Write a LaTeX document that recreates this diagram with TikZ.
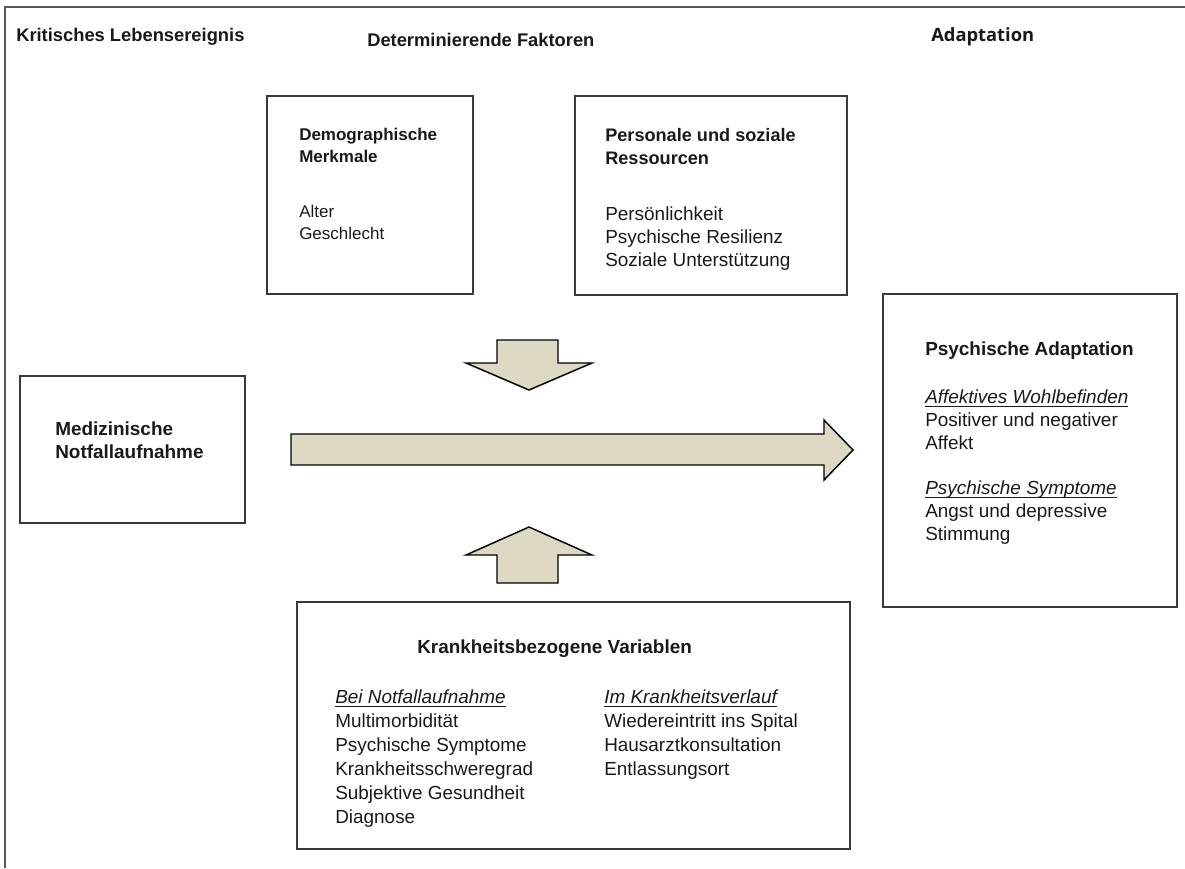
\documentclass[tikz,border=0pt]{standalone}
\usepackage{fontspec}
\setmainfont{Liberation Sans}
\newfontfamily\titlefont{Open Sans}
\usetikzlibrary{positioning,fit}
\definecolor{boxline}{HTML}{3A3A3A}
\definecolor{arrowfill}{HTML}{DDD9C3}
\newcommand{\ulit}[1]{\setbox0\hbox{\itshape #1}\rlap{\rule[-2pt]{\wd0}{0.6pt}}\box0}
\tikzset{>=stealth,
         box/.style={draw=boxline, line width=1.1pt, inner sep=0pt},
         txt/.style={anchor=north west, inner sep=0pt, align=left,
           text=black!90, font=\fontsize{14.2}{17.25}\selectfont},
         title/.style={txt, anchor=west, font=\fontsize{13.75}{17}\selectfont\bfseries},
         blockarrow/.style={fill=arrowfill, draw=black, line width=1.1pt}}

\begin{document}
\begin{tikzpicture}[x=0.75pt,y=-0.75pt]
  \useasboundingbox (0,0) rectangle (1185,868);
  \draw[boxline!85, line width=1.1pt] (5,868) -- (5,7) -- (1185,7);
  % column titles
  \node[title] (tKrit) at (16,37) {Kritisches Lebensereignis};
  \node[title] (tDet) at (367,40) {Determinierende Faktoren};
  \node[title] (tAdapt) at (931,37) {\titlefont\bfseries Adaptation};
  % boxes
  \node[box, fit={(267,96) (473,294)}] (demo) {};
  \node[box, fit={(575,96) (847,295)}] (pers) {};
  \node[box, fit={(20,376) (245,523)}] (notfall) {};
  \node[box, fit={(883,294) (1177,607)}] (adapt) {};
  \node[box, fit={(297,602) (850,849)}] (krank) {};
  % box texts
  \node[txt, font=\fontsize{12.75}{16.5}\selectfont] (demoT) at (299,128)
    {\textbf{Demographische}\\\textbf{Merkmale}\\[24.75pt]Alter\\Geschlecht};
  \node[txt] (persT) at (605,128)
    {\fontsize{13.6}{17.25}\selectfont\textbf{Personale und soziale}\\
     \fontsize{13.6}{17.25}\selectfont\textbf{Ressourcen}\\[25pt]
     Persönlichkeit\\Psychische Resilienz\\Soziale Unterstützung};
  \node[txt] (notfallT) at (55,422) {\textbf{Medizinische}\\\textbf{Notfallaufnahme}};
  \node[txt] (adaptT) at (925,342) {\textbf{Psychische Adaptation}\\[18.75pt]
    \ulit{Affektives Wohlbefinden}\\Positiver und negativer\\Affekt\\[16.5pt]
    \ulit{Psychische Symptome}\\Angst und depressive\\Stimmung};
  \node[txt] (krankH) at (417,640) {\textbf{Krankheitsbezogene Variablen}};
  \node[txt, font=\fontsize{14.2}{18}\selectfont] (krankL) at (335,690)
    {\ulit{Bei Notfallaufnahme}\\Multimorbidität\\Psychische Symptome\\
     Krankheitsschweregrad\\Subjektive Gesundheit\\Diagnose};
  \node[txt, font=\fontsize{14.2}{18}\selectfont] (krankR) at (604,690)
    {\ulit{Im Krankheitsverlauf}\\Wiedereintritt ins Spital\\Hausarztkonsultation\\
     Entlassungsort};
  % block arrows
  \draw[blockarrow] (497,340) -- (558,340) -- (558,363) -- (592,363) -- (529,390)
    -- (466,363) -- (497,363) -- cycle;
  \draw[blockarrow] (497,583) -- (558,583) -- (558,555) -- (592,555) -- (529,527)
    -- (466,555) -- (497,555) -- cycle;
  \draw[blockarrow] (291,434) -- (824,434) -- (824,420) -- (853,450) -- (824,480)
    -- (824,465) -- (291,465) -- cycle;
\end{tikzpicture}
\end{document}
